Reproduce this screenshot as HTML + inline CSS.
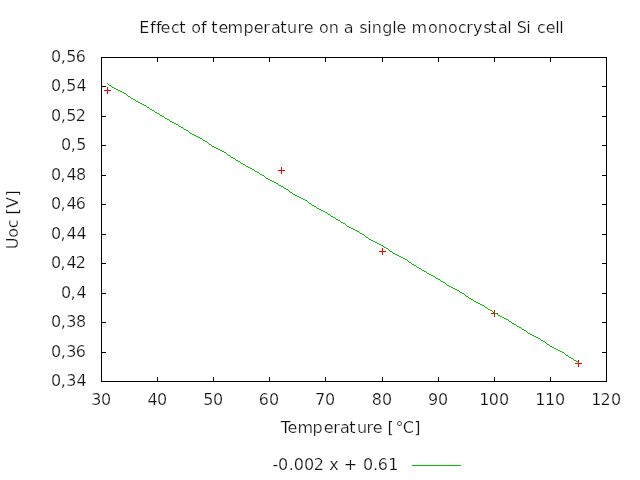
<!DOCTYPE html>
<html lang="en"><head><meta charset="utf-8"><title>Effect of temperature on a single monocrystal Si cell</title>
<style>html,body{margin:0;padding:0;background:#fff;overflow:hidden}svg{display:block}</style></head>
<body>
<svg width="640" height="480" viewBox="0 0 640 480" style="display:block">
<rect width="640" height="480" fill="#fff"/>
<g fill="#000" shape-rendering="crispEdges">
<rect x="101" y="57" width="506" height="1"/>
<rect x="101" y="381" width="506" height="1"/>
<rect x="101" y="57" width="1" height="325"/>
<rect x="606" y="57" width="1" height="325"/>
<rect x="101" y="352" width="5" height="1"/>
<rect x="602" y="352" width="5" height="1"/>
<rect x="101" y="322" width="5" height="1"/>
<rect x="602" y="322" width="5" height="1"/>
<rect x="101" y="293" width="5" height="1"/>
<rect x="602" y="293" width="5" height="1"/>
<rect x="101" y="263" width="5" height="1"/>
<rect x="602" y="263" width="5" height="1"/>
<rect x="101" y="234" width="5" height="1"/>
<rect x="602" y="234" width="5" height="1"/>
<rect x="101" y="204" width="5" height="1"/>
<rect x="602" y="204" width="5" height="1"/>
<rect x="101" y="175" width="5" height="1"/>
<rect x="602" y="175" width="5" height="1"/>
<rect x="101" y="145" width="5" height="1"/>
<rect x="602" y="145" width="5" height="1"/>
<rect x="101" y="116" width="5" height="1"/>
<rect x="602" y="116" width="5" height="1"/>
<rect x="101" y="86" width="5" height="1"/>
<rect x="602" y="86" width="5" height="1"/>
<rect x="157" y="377" width="1" height="5"/>
<rect x="157" y="57" width="1" height="5"/>
<rect x="213" y="377" width="1" height="5"/>
<rect x="213" y="57" width="1" height="5"/>
<rect x="269" y="377" width="1" height="5"/>
<rect x="269" y="57" width="1" height="5"/>
<rect x="325" y="377" width="1" height="5"/>
<rect x="325" y="57" width="1" height="5"/>
<rect x="382" y="377" width="1" height="5"/>
<rect x="382" y="57" width="1" height="5"/>
<rect x="438" y="377" width="1" height="5"/>
<rect x="438" y="57" width="1" height="5"/>
<rect x="494" y="377" width="1" height="5"/>
<rect x="494" y="57" width="1" height="5"/>
<rect x="550" y="377" width="1" height="5"/>
<rect x="550" y="57" width="1" height="5"/>
</g>
<rect x="412" y="465" width="49" height="1" fill="#00c000" shape-rendering="crispEdges"/>
<g fill="#ff0000" shape-rendering="crispEdges">
<rect x="104" y="90" width="7" height="1"/><rect x="107" y="87" width="1" height="7"/>
<rect x="278" y="170" width="7" height="1"/><rect x="281" y="167" width="1" height="7"/>
<rect x="379" y="251" width="7" height="1"/><rect x="382" y="248" width="1" height="7"/>
<rect x="491" y="313" width="7" height="1"/><rect x="494" y="310" width="1" height="7"/>
<rect x="575" y="363" width="7" height="1"/><rect x="578" y="360" width="1" height="7"/>
</g>
<path d="M107 83h1v1h-1zM108 84h1v1h-1zM109 85h2v1h-2zM111 86h1v1h-1zM112 87h2v1h-2zM114 88h2v1h-2zM116 89h2v1h-2zM118 90h2v1h-2zM120 91h2v1h-2zM122 92h2v1h-2zM124 93h2v1h-2zM126 94h1v1h-1zM127 95h1v1h-1zM128 96h2v1h-2zM130 97h1v1h-1zM131 98h2v1h-2zM133 99h2v1h-2zM135 100h1v1h-1zM136 101h2v1h-2zM138 102h2v1h-2zM140 103h2v1h-2zM142 104h2v1h-2zM144 105h2v1h-2zM146 106h1v1h-1zM147 107h2v1h-2zM149 108h1v1h-1zM150 109h2v1h-2zM152 110h2v1h-2zM154 111h1v1h-1zM155 112h2v1h-2zM157 113h2v1h-2zM159 114h1v1h-1zM160 115h2v1h-2zM162 116h2v1h-2zM164 117h1v1h-1zM165 118h2v1h-2zM167 119h2v1h-2zM169 120h1v1h-1zM170 121h2v1h-2zM172 122h2v1h-2zM174 123h2v1h-2zM176 124h2v1h-2zM178 125h1v1h-1zM179 126h2v1h-2zM181 127h2v1h-2zM183 128h1v1h-1zM184 129h2v1h-2zM186 130h2v1h-2zM188 131h1v1h-1zM189 132h1v1h-1zM190 133h2v1h-2zM192 134h2v1h-2zM194 135h2v1h-2zM196 136h2v1h-2zM198 137h2v1h-2zM200 138h2v1h-2zM202 139h1v1h-1zM203 140h2v1h-2zM205 141h2v1h-2zM207 142h1v1h-1zM208 143h1v1h-1zM209 144h2v1h-2zM211 145h1v1h-1zM212 146h2v1h-2zM214 147h2v1h-2zM216 148h2v1h-2zM218 149h2v1h-2zM220 150h2v1h-2zM222 151h2v1h-2zM224 152h2v1h-2zM226 153h1v1h-1zM227 154h1v1h-1zM228 155h2v1h-2zM230 156h1v1h-1zM231 157h2v1h-2zM233 158h2v1h-2zM235 159h1v1h-1zM236 160h2v1h-2zM238 161h2v1h-2zM240 162h1v1h-1zM241 163h2v1h-2zM243 164h2v1h-2zM245 165h1v1h-1zM246 166h2v1h-2zM248 167h2v1h-2zM250 168h2v1h-2zM252 169h2v1h-2zM254 170h1v1h-1zM255 171h2v1h-2zM257 172h2v1h-2zM259 173h1v1h-1zM260 174h2v1h-2zM262 175h2v1h-2zM264 176h1v1h-1zM265 177h1v1h-1zM266 178h2v1h-2zM268 179h2v1h-2zM270 180h2v1h-2zM272 181h2v1h-2zM274 182h2v1h-2zM276 183h2v1h-2zM278 184h1v1h-1zM279 185h2v1h-2zM281 186h2v1h-2zM283 187h1v1h-1zM284 188h2v1h-2zM286 189h2v1h-2zM288 190h1v1h-1zM289 191h1v1h-1zM290 192h2v1h-2zM292 193h1v1h-1zM293 194h2v1h-2zM295 195h2v1h-2zM297 196h2v1h-2zM299 197h2v1h-2zM301 198h2v1h-2zM303 199h2v1h-2zM305 200h2v1h-2zM307 201h1v1h-1zM308 202h1v1h-1zM309 203h2v1h-2zM311 204h1v1h-1zM312 205h2v1h-2zM314 206h2v1h-2zM316 207h1v1h-1zM317 208h2v1h-2zM319 209h2v1h-2zM321 210h2v1h-2zM323 211h2v1h-2zM325 212h2v1h-2zM327 213h1v1h-1zM328 214h2v1h-2zM330 215h1v1h-1zM331 216h2v1h-2zM333 217h2v1h-2zM335 218h1v1h-1zM336 219h2v1h-2zM338 220h2v1h-2zM340 221h1v1h-1zM341 222h2v1h-2zM343 223h2v1h-2zM345 224h1v1h-1zM346 225h1v1h-1zM347 226h2v1h-2zM349 227h2v1h-2zM351 228h2v1h-2zM353 229h2v1h-2zM355 230h2v1h-2zM357 231h2v1h-2zM359 232h1v1h-1zM360 233h2v1h-2zM362 234h2v1h-2zM364 235h1v1h-1zM365 236h1v1h-1zM366 237h2v1h-2zM368 238h1v1h-1zM369 239h2v1h-2zM371 240h2v1h-2zM373 241h2v1h-2zM375 242h2v1h-2zM377 243h2v1h-2zM379 244h2v1h-2zM381 245h2v1h-2zM383 246h1v1h-1zM384 247h2v1h-2zM386 248h2v1h-2zM388 249h1v1h-1zM389 250h1v1h-1zM390 251h2v1h-2zM392 252h1v1h-1zM393 253h2v1h-2zM395 254h2v1h-2zM397 255h2v1h-2zM399 256h2v1h-2zM401 257h2v1h-2zM403 258h2v1h-2zM405 259h2v1h-2zM407 260h1v1h-1zM408 261h1v1h-1zM409 262h2v1h-2zM411 263h1v1h-1zM412 264h2v1h-2zM414 265h2v1h-2zM416 266h1v1h-1zM417 267h2v1h-2zM419 268h2v1h-2zM421 269h1v1h-1zM422 270h2v1h-2zM424 271h2v1h-2zM426 272h1v1h-1zM427 273h2v1h-2zM429 274h2v1h-2zM431 275h2v1h-2zM433 276h2v1h-2zM435 277h1v1h-1zM436 278h2v1h-2zM438 279h2v1h-2zM440 280h1v1h-1zM441 281h2v1h-2zM443 282h2v1h-2zM445 283h1v1h-1zM446 284h1v1h-1zM447 285h2v1h-2zM449 286h2v1h-2zM451 287h2v1h-2zM453 288h2v1h-2zM455 289h2v1h-2zM457 290h2v1h-2zM459 291h1v1h-1zM460 292h2v1h-2zM462 293h2v1h-2zM464 294h1v1h-1zM465 295h1v1h-1zM466 296h2v1h-2zM468 297h1v1h-1zM469 298h2v1h-2zM471 299h2v1h-2zM473 300h1v1h-1zM474 301h2v1h-2zM476 302h2v1h-2zM478 303h2v1h-2zM480 304h2v1h-2zM482 305h2v1h-2zM484 306h1v1h-1zM485 307h2v1h-2zM487 308h1v1h-1zM488 309h2v1h-2zM490 310h2v1h-2zM492 311h1v1h-1zM493 312h2v1h-2zM495 313h2v1h-2zM497 314h1v1h-1zM498 315h2v1h-2zM500 316h2v1h-2zM502 317h2v1h-2zM504 318h2v1h-2zM506 319h2v1h-2zM508 320h1v1h-1zM509 321h2v1h-2zM511 322h1v1h-1zM512 323h2v1h-2zM514 324h2v1h-2zM516 325h1v1h-1zM517 326h2v1h-2zM519 327h2v1h-2zM521 328h1v1h-1zM522 329h2v1h-2zM524 330h2v1h-2zM526 331h1v1h-1zM527 332h1v1h-1zM528 333h2v1h-2zM530 334h2v1h-2zM532 335h2v1h-2zM534 336h2v1h-2zM536 337h2v1h-2zM538 338h2v1h-2zM540 339h1v1h-1zM541 340h2v1h-2zM543 341h2v1h-2zM545 342h1v1h-1zM546 343h1v1h-1zM547 344h2v1h-2zM549 345h1v1h-1zM550 346h2v1h-2zM552 347h2v1h-2zM554 348h2v1h-2zM556 349h2v1h-2zM558 350h2v1h-2zM560 351h2v1h-2zM562 352h2v1h-2zM564 353h1v1h-1zM565 354h1v1h-1zM566 355h2v1h-2zM568 356h1v1h-1zM569 357h2v1h-2zM571 358h2v1h-2zM573 359h1v1h-1zM574 360h2v1h-2zM576 361h2v1h-2zM578 362h1v1h-1z" fill="#00c000" shape-rendering="crispEdges"/>
<g font-family="'DejaVu Sans', 'Liberation Sans', sans-serif" font-size="16" fill="#101010" stroke="#fff" stroke-width="0.24" style="font-variant-ligatures:none;font-feature-settings:&quot;liga&quot; 0,&quot;clig&quot; 0,&quot;kern&quot; 0;font-kerning:none;white-space:pre">
<text transform="translate(0,33.0) scale(1,1.029)" x="139.2 149.94 156.07 160.39 171.04 179.2 186 191.22 200.94 207 211.33 218.52 227.43 243.55 253.64 263.14 271.04 280.2 287.11 297.39 303.64 314 318.97 328.76 339 343.67 354 359.15 367.27 371.76 382.16 392.27 396.39 407 411.43 427.97 437.76 447.97 457.91 466.14 473.1 483.15 490.33 498.04 507.15 512 516.71 526.15 532 536.91 545.77 555.15 559.15" y="0">Effect of temperature on a single monocrystal Si cell</text>
<text transform="translate(0,386.0) scale(1,1.029)" x="50.91 60.74 66.16 76.5" y="0">0,34</text>
<text transform="translate(0,357.0) scale(1,1.029)" x="50.91 60.74 66.16 75.63" y="0">0,36</text>
<text transform="translate(0,327.0) scale(1,1.029)" x="50.91 60.74 66.16 75.92" y="0">0,38</text>
<text transform="translate(0,298.0) scale(1,1.029)" x="60.91 70.49 76.5" y="0">0,4</text>
<text transform="translate(0,268.0) scale(1,1.029)" x="50.91 60.49 66.5 75.7" y="0">0,42</text>
<text transform="translate(0,239.0) scale(1,1.029)" x="50.91 60.49 66.5 76.5" y="0">0,44</text>
<text transform="translate(0,209.0) scale(1,1.029)" x="50.91 60.49 66.5 75.75" y="0">0,46</text>
<text transform="translate(0,180.0) scale(1,1.029)" x="50.91 60.49 66.5 76.04" y="0">0,48</text>
<text transform="translate(0,150.0) scale(1,1.029)" x="60.91 70.86 76.2" y="0">0,5</text>
<text transform="translate(0,121.0) scale(1,1.029)" x="50.91 60.74 66.33 75.7" y="0">0,52</text>
<text transform="translate(0,91.0) scale(1,1.029)" x="50.91 60.86 66.2 76.5" y="0">0,54</text>
<text transform="translate(0,62.0) scale(1,1.029)" x="50.91 60.86 66.2 75.63" y="0">0,56</text>
<text transform="translate(0,405.0) scale(1,1.029)" x="91.16 100.91" y="0">30</text>
<text transform="translate(0,405.0) scale(1,1.029)" x="147.5 157.03" y="0">40</text>
<text transform="translate(0,405.0) scale(1,1.029)" x="203.2 212.91" y="0">50</text>
<text transform="translate(0,405.0) scale(1,1.029)" x="258.63 268.91" y="0">60</text>
<text transform="translate(0,405.0) scale(1,1.029)" x="314.92 324.91" y="0">70</text>
<text transform="translate(0,405.0) scale(1,1.029)" x="371.67 381.91" y="0">80</text>
<text transform="translate(0,405.0) scale(1,1.029)" x="427.94 437.91" y="0">90</text>
<text transform="translate(0,405.0) scale(1,1.029)" x="479.13 488.66 498.91" y="0">100</text>
<text transform="translate(0,405.0) scale(1,1.029)" x="535.25 545 554.91" y="0">110</text>
<text transform="translate(0,405.0) scale(1,1.029)" x="591.25 600.45 610.91" y="0">120</text>
<text transform="translate(0,433.0) scale(1,1.029)" x="280.86 287.52 297.43 312.55 323.64 333.14 340.04 349.2 357.11 366.39 372.64 383 387.46 395.5 402.83 414.18" y="0">Temperature [°C]</text>
<text transform="translate(0,470.0) scale(1,1.029)" x="272.49 278.03 288.72 293.66 303.91 313.7 324 329.18 339 343.67 358 362.91 372.97 377.88 388.13" y="0">-0.002 x + 0.61</text>
<text transform="translate(18.0,0) rotate(-90) scale(1,1.029)" x="-249.35 -237.66 -228.21 -219 -214.54 -208.1 -196.57" y="0">Uoc [V]</text>
</g>
</svg>
</body></html>
